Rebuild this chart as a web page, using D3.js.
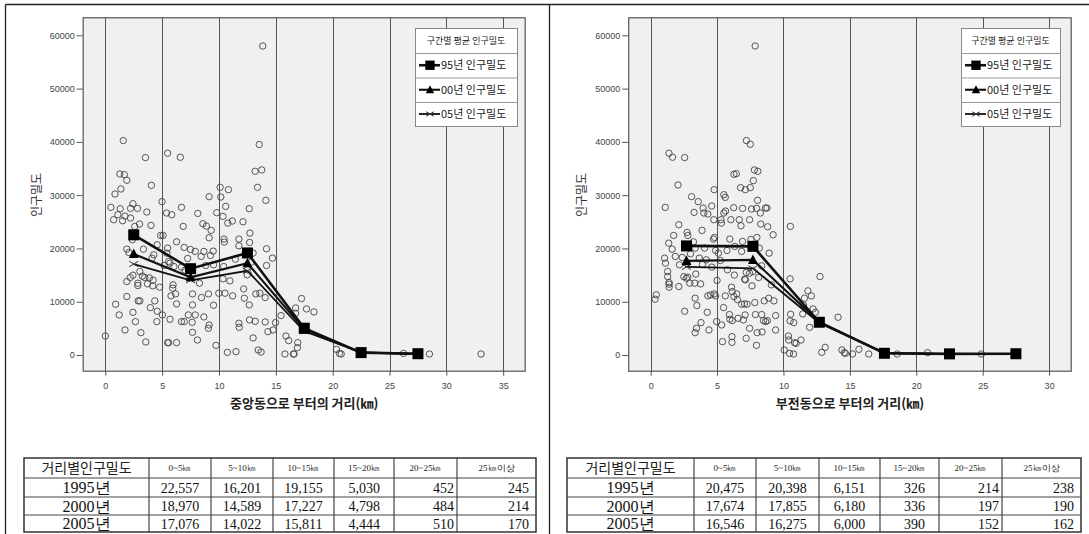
<!DOCTYPE html>
<html><head><meta charset="utf-8">
<script src="https://cdn.jsdelivr.net/npm/d3@7"></script>
<style>
body{margin:0;background:#fff;}
svg{display:block;}
</style></head>
<body>
<svg id="c" width="1089" height="534"></svg>
<script>
// ---------- DATA ----------
const xTicksLeft = [0,5,10,15,20,25,30,35];
const xTicksRight = [0,5,10,15,20,25,30];
const yTicks = [0,10000,20000,30000,40000,50000,60000];
const legendTitle = "구간별 평균 인구밀도";
const seriesNames = ["95년 인구밀도","00년 인구밀도","05년 인구밀도"];
const bands = ["0~5㎞","5~10㎞","10~15㎞","15~20㎞","20~25㎞","25㎞이상"];
const yearLabels = ["1995년","2000년","2005년"];
const tableHeader = "거리별인구밀도";

const leftMeanX = [2.5,7.5,12.5,17.5,22.5,27.5];
const left1995 = [22557,16201,19155,5030,452,245];
const left2000 = [18970,14589,17227,4798,484,214];
const left2005 = [17076,14022,15811,4444,510,170];

const rightMeanX = [2.7,7.7,12.7,17.6,22.5,27.5];
const right1995 = [20475,20398,6151,326,214,238];
const right2000 = [17674,17855,6180,336,197,190];
const right2005 = [16546,16275,6000,390,152,162];

const leftTitle = "중앙동으로 부터의 거리(㎞)";
const rightTitle = "부전동으로 부터의 거리(㎞)";
const yTitle = "인구밀도";

// scatter points [distance km, density]
const leftPoints = [
[13.85,58000],[1.58,40250],[13.54,39500],[5.48,37870],[3.53,37050],[6.6,37120],[13.76,34730],[13.18,34480],
[1.28,33980],[1.67,33850],[1.89,32790],[4.05,31850],[1.37,31160],[13.39,31470],[10.1,31470],[10.83,31030],
[0.85,30220],[9.13,29720],[10.16,29650],[14.12,29030],[4.99,28780],[2.43,28400],[0.49,27710],[1.31,27460],
[2.22,27520],[2.83,27520],[6.7,27710],[10.59,27900],[12.66,27460],[3.65,26830],[5.39,26650],[5.84,26330],
[8.13,26580],[9.8,26710],[1.1,26330],[1.73,26080],[2.22,25710],[1.52,25200],[0.73,25390],[10.35,26020],
[3.01,24580],[4.02,24330],[6.85,24140],[8.58,24640],[8.89,24200],[9.31,23390],[10.77,24760],[11.17,25140],
[12.11,25010],[12.72,22880],[2.59,24140],[4.87,22440],[5.08,22440],[9.13,22000],[10.44,21760],[11.75,21760],
[12.69,21130],[2.37,21630],[6.27,21250],[10.47,21190],[11.75,20500],[4.56,20690],[3.35,19870],[5.48,20060],
[6.94,20190],[7.49,19810],[7.91,19440],[8.67,19440],[9.49,19500],[14.18,19940],[1.89,19870],[2.07,19250],
[13.0,19120],[4.26,18810],[5.42,19120],[7.24,18120],[9.25,18680],[8.43,18500],[14.7,18180],[4.11,18180],
[11.44,17990],[9.52,16930],[8.83,16800],[10.41,16610],[14.18,16800],[5.69,17240],[6.03,16610],[6.7,16490],
[7.0,15920],[5.17,16800],[3.04,15670],[2.43,14980],[3.26,14800],[2.19,14550],[3.47,14550],[3.87,14480],
[4.2,14040],[1.89,13790],[2.86,13480],[3.71,13350],[4.17,12980],[4.78,12730],[5.96,13170],[8.28,13480],
[10.35,14300],[10.96,13920],[12.48,15050],[12.84,17430],[2.86,13040],[5.93,12540],[12.17,12410],[6.18,11470],
[9.98,11600],[10.53,11600],[11.2,11100],[13.6,11600],[9.07,11470],[7.67,11470],[8.46,10780],[5.78,11100],
[1.89,10970],[2.89,10160],[3.04,10160],[4.35,10160],[6.27,9590],[14.06,10780],[12.23,10660],[0.91,9530],
[3.96,8900],[4.56,8210],[7.67,9400],[9.52,9340],[12.66,9400],[1.22,7520],[2.43,8020],[5.02,7520],
[7.3,7520],[8.67,7150],[7.91,7520],[12.69,6580],[13.18,6330],[6.7,6270],[6.94,6270],[7.64,6140],
[2.65,6270],[4.53,6270],[5.69,6710],[9.13,5640],[9.07,5020],[11.75,5960],[11.78,5200],[14.06,6210],
[14.97,6080],[14.76,4700],[14.3,4390],[1.73,4700],[7.67,4260],[3.13,4200],[8.1,2820],[3.56,2450],
[5.48,2320],[5.57,2320],[6.27,2320],[13.0,3200],[9.74,1820],[10.74,500],[11.5,630],[13.45,940],
[13.7,560],[0.0,3570],[15.89,3570],[16.13,2700],[16.93,2320],[16.9,1380],[15.8,190],[16.6,190],
[16.55,190],[15.46,7400],[16.74,8840],[17.26,10600],[17.7,8650],[18.35,8090],[16.74,7840],[20.33,1070],
[20.6,310],[20.75,190],[26.23,310],[28.51,190],[33.05,190],[13.24,11470],[5.57,17550],[12.5,16000]
];
const rightPoints = [
[7.87,58000],[7.21,40250],[7.5,39560],[1.38,37870],[1.65,37120],[2.56,37050],[7.73,32730],[6.27,33920],
[6.45,34040],[7.81,34730],[8.07,34480],[2.06,31910],[4.78,31030],[6.77,31410],[7.13,31030],[7.5,31410],
[3.08,29720],[5.51,30090],[5.62,29590],[8.05,29030],[1.1,27710],[3.58,28780],[3.95,27590],[4.6,27960],
[6.25,27650],[6.92,27520],[7.6,27400],[7.97,27520],[8.65,27590],[8.76,27590],[3.27,26770],[4.0,26650],
[4.31,26460],[5.51,26650],[5.64,27020],[8.26,26650],[4.76,25390],[5.3,25390],[6.04,25390],[6.67,25390],
[7.45,25390],[5.33,24760],[2.12,24450],[6.8,24260],[8.29,24580],[8.81,24070],[10.52,24140],[3.87,23390],
[9.22,22570],[2.74,23010],[2.8,22440],[8.0,22070],[1.73,22440],[4.73,21760],[4.81,22070],[7.55,21690],
[6.92,21320],[5.96,21760],[1.36,21000],[3.22,21250],[1.62,19870],[4.06,20060],[3.35,20060],[4.89,19620],
[5.75,19620],[6.33,20380],[6.85,19440],[8.18,20060],[1.86,18500],[2.38,18310],[1.05,18180],[1.12,17240],
[2.17,16930],[2.74,17240],[3.66,18180],[4.19,17870],[5.1,19120],[5.25,17740],[5.78,15990],[8.92,19120],
[8.36,16740],[7.71,15670],[7.45,15360],[7.08,14230],[7.13,14110],[7.63,12980],[8.13,14550],[9.09,13170],
[1.28,15670],[1.28,14730],[2.69,14420],[2.8,14610],[3.32,13480],[3.76,13350],[1.39,13610],[1.39,13290],
[1.39,12730],[2.12,12850],[2.95,13480],[6.09,12730],[6.14,11910],[6.48,11470],[10.5,14300],[12.75,14730],
[11.84,12040],[0.42,11290],[0.34,10470],[3.35,10660],[3.48,9280],[4.31,11100],[4.52,11290],[4.78,11470],
[4.89,11100],[5.62,11100],[6.27,10970],[6.53,10410],[6.85,9530],[7.06,9590],[7.26,9530],[7.84,9840],
[8.55,10160],[8.89,10660],[9.28,10160],[11.58,10660],[12.1,11100],[11.5,9400],[5.49,8900],[2.56,8210],
[4.26,8020],[5.93,7590],[7.11,7520],[7.89,7590],[8.36,7590],[9.41,7400],[10.54,7650],[12.23,8650],
[12.41,8020],[14.11,7090],[11.45,7710],[5.96,6710],[6.58,6900],[6.14,6460],[6.98,6580],[8.5,6460],
[8.66,6270],[8.79,6460],[10.5,6400],[10.77,6080],[4.97,6270],[3.79,6080],[5.35,5640],[7.45,5020],
[8.02,4200],[8.39,4330],[9.41,4700],[4.39,4700],[3.45,5020],[3.35,4200],[11.97,5200],[6.12,3450],
[7.19,3130],[6.12,2380],[5.41,2510],[7.97,1820],[10.37,3570],[10.4,2820],[10.84,2320],[10.95,2190],
[11.32,2820],[10.06,940],[10.46,310],[10.76,190],[12.88,500],[13.14,1440],[14.4,940],[14.58,440],
[14.66,310],[15.2,190],[15.68,1070],[16.42,190],[18.56,190],[20.85,440],[24.9,190],[3.0,19000],
[3.9,17000],[4.6,16500],[6.3,15000],[7.2,15500],[5.0,14000],[3.4,15200],[2.5,14700]
];

// ---------- DRAW ----------
const svg = d3.select("#c");
const font = "'Liberation Sans', Arial, sans-serif";
const kfont = "'Noto Sans CJK KR', 'Noto Sans', sans-serif";
const serif = "'Liberation Serif', 'Times New Roman', serif";

// outer frame
const frame = svg.append("g").attr("stroke","#222").attr("stroke-width",1.3);
frame.append("line").attr("x1",5.5).attr("x2",1089).attr("y1",4.5).attr("y2",4.5);
frame.append("line").attr("x1",5.5).attr("x2",5.5).attr("y1",4.5).attr("y2",534);
frame.append("line").attr("x1",549.5).attr("x2",549.5).attr("y1",4.5).attr("y2",534);

const yScale = d3.scaleLinear().domain([-3130,63380]).range([371.7,17.3]);

function drawPanel(cfg){
  const g = svg.append("g");
  const x = d3.scaleLinear().domain(cfg.xDomain).range(cfg.xRange);
  const [x0,x1] = cfg.xRange, [yb,yt] = yScale.range();
  g.append("rect").attr("x",x0).attr("y",yt).attr("width",x1-x0).attr("height",yb-yt)
    .attr("fill","#f0f0f0");
  // gridlines
  g.append("g").selectAll("line").data(cfg.xTicks).join("line")
    .attr("x1",d=>Math.round(x(d))+0.5).attr("x2",d=>Math.round(x(d))+0.5)
    .attr("y1",yt).attr("y2",yb)
    .attr("stroke","#555").attr("stroke-width",1);
  // axes
  const ax = g.append("g").attr("transform",`translate(0,${yb})`)
    .call(d3.axisBottom(x).tickValues(cfg.xTicks).tickSize(4).tickPadding(7).tickFormat(d3.format("d")));
  ax.select(".domain").remove();
  ax.selectAll("line").attr("stroke","#555");
  ax.selectAll("text").attr("font-family",font).attr("font-size",9).attr("fill","#444");
  const ay = g.append("g").attr("transform",`translate(${x0},0)`)
    .call(d3.axisLeft(yScale).tickValues(yTicks).tickSize(6).tickPadding(2).tickFormat(d3.format("d")));
  ay.select(".domain").remove();
  ay.selectAll("line").attr("stroke","#555");
  ay.selectAll("text").attr("font-family",font).attr("font-size",9).attr("fill","#444");
  // frame
  g.append("rect").attr("x",x0+0.5).attr("y",yt+0.5).attr("width",x1-x0-1).attr("height",yb-yt-1)
    .attr("fill","none").attr("stroke","#555").attr("stroke-width",1.2);
  // points
  g.append("g").selectAll("circle").data(cfg.points).join("circle")
    .attr("cx",d=>x(d[0])).attr("cy",d=>yScale(d[1])).attr("r",3.2)
    .attr("fill","none").attr("stroke","#444").attr("stroke-width",0.9);
  // lines
  const series = [
    {v:cfg.s95, w:2.6, m:"square"},
    {v:cfg.s00, w:2.1, m:"triangle"},
    {v:cfg.s05, w:1.8, m:"cross"}
  ];
  const line = d3.line().x(d=>x(d[0])).y(d=>yScale(d[1]));
  series.slice().reverse().forEach(s=>{
    const pts = cfg.meanX.map((mx,i)=>[mx,s.v[i]]);
    g.append("path").attr("d",line(pts)).attr("fill","none").attr("stroke","#111")
      .attr("stroke-width",s.w).attr("stroke-linejoin","miter");
    pts.forEach(p=>drawMarker(g,s.m,x(p[0]),yScale(p[1]),1));
  });
  // legend
  const lg = g.append("g");
  const lx = cfg.legendX, lw = cfg.legendW, ly = 28;
  const rowsY = [ly, ly+25, ly+49.5, ly+74, ly+98];
  lg.append("rect").attr("x",lx+0.5).attr("y",ly+0.5).attr("width",lw).attr("height",98)
    .attr("fill","#fff").attr("stroke","#888").attr("stroke-width",1);
  rowsY.slice(1,4).forEach(yy=>lg.append("line").attr("x1",lx).attr("x2",lx+lw).attr("y1",yy+0.5).attr("y2",yy+0.5)
     .attr("stroke","#999"));
  lg.append("text").attr("x",lx+lw/2).attr("y",ly+16).attr("text-anchor","middle")
    .attr("font-family",kfont).attr("font-size",9).attr("fill","#222").text(legendTitle);
  seriesNames.forEach((nm,i)=>{
    const cy = (rowsY[i+1]+rowsY[i+2])/2;
    lg.append("line").attr("x1",lx+4).attr("x2",lx+25).attr("y1",cy).attr("y2",cy)
      .attr("stroke","#111").attr("stroke-width",series[i].w);
    drawMarker(lg,series[i].m,lx+15,cy,0.85);
    lg.append("text").attr("x",lx+26).attr("y",cy+4).attr("font-family",kfont)
      .attr("font-size",11).attr("fill","#222").text(nm);
  });
  // titles
  g.append("text").attr("x",(x0+x1)/2).attr("y",408).attr("text-anchor","middle")
    .attr("font-family",kfont).attr("font-weight","bold").attr("font-size",13)
    .attr("fill","#222").text(cfg.title);
  g.append("text").attr("transform",`translate(${cfg.yTitleX},195) rotate(-90)`)
    .attr("text-anchor","middle").attr("font-family",kfont).attr("font-size",12)
    .attr("fill","#333").text(yTitle);
}

function drawMarker(g,type,cx,cy,k){
  if(type==="square"){
    const s=11*k;
    g.append("rect").attr("x",cx-s/2).attr("y",cy-s/2).attr("width",s).attr("height",s).attr("fill","#000");
  } else if(type==="triangle"){
    const s=9*k;
    g.append("path").attr("d",`M${cx},${cy-s*0.6}L${cx+s*0.55},${cy+s*0.45}L${cx-s*0.55},${cy+s*0.45}Z`).attr("fill","#000");
  } else {
    const s=4.5*k;
    g.append("path").attr("d",`M${cx-s},${cy-s*0.6}L${cx+s},${cy+s*0.6}M${cx-s},${cy+s*0.6}L${cx+s},${cy-s*0.6}`)
      .attr("stroke","#333").attr("stroke-width",1);
  }
}

drawPanel({xDomain:[-1.99,36.98], xRange:[82.7,525.7], xTicks:xTicksLeft, points:leftPoints,
  meanX:leftMeanX, s95:left1995, s00:left2000, s05:left2005, legendX:415, legendW:102,
  title:leftTitle, yTitleX:41});
drawPanel({xDomain:[-1.69,31.7], xRange:[628.2,1071.7], xTicks:xTicksRight, points:rightPoints,
  meanX:rightMeanX, s95:right1995, s00:right2000, s05:right2005, legendX:961, legendW:99,
  title:rightTitle, yTitleX:586});

// ---------- TABLES ----------
function drawTable(cols, rowsData){
  const g = svg.append("g");
  const rowY = [458,478,497,515,532];
  // header
  const x0 = cols[0], x1 = cols[cols.length-1];
  g.append("rect").attr("x",x0).attr("y",rowY[0]).attr("width",x1-x0).attr("height",rowY[4]-rowY[0])
    .attr("fill","none").attr("stroke","#333").attr("stroke-width",1.5);
  rowY.slice(1,4).forEach(yy=>g.append("line").attr("x1",x0).attr("x2",x1).attr("y1",yy).attr("y2",yy)
    .attr("stroke","#444").attr("stroke-width",1.2));
  cols.slice(1,-1).forEach(xx=>g.append("line").attr("x1",xx).attr("x2",xx).attr("y1",rowY[0]).attr("y2",rowY[4])
    .attr("stroke","#444").attr("stroke-width",1.2));
  g.append("text").attr("x",(cols[0]+cols[1])/2).attr("y",473).attr("text-anchor","middle")
    .attr("font-family",kfont).attr("font-size",14).attr("fill","#222").text(tableHeader);
  bands.forEach((b,i)=>{
    g.append("text").attr("x",(cols[i+1]+cols[i+2])/2).attr("y",471).attr("text-anchor","middle")
      .attr("font-family",serif).attr("font-size",9).attr("fill","#222").text(b);
  });
  const fmt = d3.format(",");
  rowsData.forEach((vals,r)=>{
    const cy = (rowY[r+1]+rowY[r+2])/2 + 5.5;
    g.append("text").attr("x",(cols[0]+cols[1])/2).attr("y",cy).attr("text-anchor","middle")
      .attr("font-family",serif).attr("font-size",16).attr("fill","#111").text(yearLabels[r]);
    vals.forEach((v,i)=>{
      const a = cols[i+1], b = cols[i+2];
      let tx, anchor;
      if(i<3){ tx=(a+b)/2; anchor="middle"; }
      else { tx = b - [14,3,7][i-3]; anchor="end"; }
      g.append("text").attr("x",tx).attr("y",cy-0.5).attr("text-anchor",anchor)
        .attr("font-family",serif).attr("font-size",14).attr("fill","#111").text(fmt(v));
    });
  });
}
drawTable([24,149,211,273,334,394,457,536], [left1995,left2000,left2005]);
drawTable([567,694,756,819,880,939,1002,1081], [right1995,right2000,right2005]);
</script>
</body></html>
